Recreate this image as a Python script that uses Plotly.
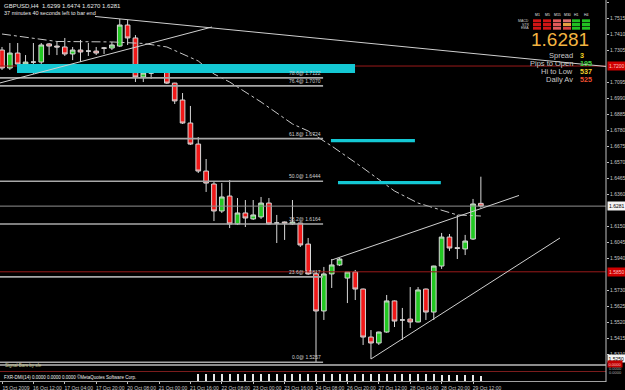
import plotly.graph_objects as go

# ---------------- data ----------------
bar_index = list(range(62))
opens = [1.7305, 1.7187, 1.7285, 1.7213, 1.7226, 1.7226, 1.7345, 1.7331, 1.7325, 1.7279,
         1.7305, 1.7298, 1.7298, 1.7319, 1.7318, 1.7331, 1.7469, 1.7384, 1.7128, 1.7154,
         1.7161, 1.7180, 1.7088, 1.6977, 1.6826, 1.6688, 1.6511, 1.6426, 1.6249, 1.6347,
         1.6164, 1.6236, 1.6197, 1.6210, 1.6301, 1.6170, 1.6177, 1.6164, 1.6170, 1.6032,
         1.5836, 1.5593, 1.5836, 1.5895, 1.5809, 1.5849, 1.5737, 1.5422, 1.5383, 1.5455,
         1.5659, 1.5534, 1.5540, 1.5521, 1.5737, 1.5586, 1.5888, 1.6078, 1.6008, 1.6000,
         1.6065, 1.6299]
highs = [1.7325, 1.7351, 1.7351, 1.7272, 1.7351, 1.7351, 1.7351, 1.7358, 1.7384, 1.7325,
         1.7371, 1.7351, 1.7325, 1.7325, 1.7358, 1.7508, 1.7502, 1.7403, 1.7156, 1.7187,
         1.7187, 1.7187, 1.7090, 1.7023, 1.6938, 1.6734, 1.6590, 1.6439, 1.6432, 1.6452,
         1.6334, 1.6321, 1.6321, 1.6341, 1.6334, 1.6223, 1.6180, 1.6321, 1.6172, 1.6072,
         1.5849, 1.5882, 1.5934, 1.5941, 1.5849, 1.5862, 1.5740, 1.5468, 1.5457, 1.5698,
         1.5662, 1.5613, 1.5750, 1.5750, 1.5740, 1.5890, 1.6105, 1.6098, 1.6223, 1.6092,
         1.6328, 1.6474]
lows = [1.7174, 1.7174, 1.7194, 1.7187, 1.7148, 1.7194, 1.7272, 1.7272, 1.7266, 1.7239,
        1.7226, 1.7266, 1.7272, 1.7279, 1.7305, 1.7325, 1.7338, 1.7095, 1.7095, 1.7115,
        1.7154, 1.7082, 1.6951, 1.6820, 1.6682, 1.6498, 1.6374, 1.6183, 1.6236, 1.6137,
        1.6157, 1.6144, 1.6190, 1.6197, 1.6160, 1.6039, 1.6059, 1.6157, 1.6013, 1.5830,
        1.5257, 1.5534, 1.5744, 1.5888, 1.5645, 1.5665, 1.5370, 1.5278, 1.5370, 1.5450,
        1.5488, 1.5403, 1.5481, 1.5518, 1.5534, 1.5534, 1.5869, 1.5987, 1.5934, 1.5960,
        1.6059, 1.6270]
closes = [1.7187, 1.7285, 1.7213, 1.7226, 1.7226, 1.7338, 1.7331, 1.7325, 1.7279, 1.7305,
          1.7292, 1.7298, 1.7285, 1.7317, 1.7338, 1.7469, 1.7384, 1.7128, 1.7154, 1.7154,
          1.7180, 1.7088, 1.6971, 1.6826, 1.6688, 1.6511, 1.6432, 1.6249, 1.6341, 1.6164,
          1.6236, 1.6203, 1.6223, 1.6301, 1.6164, 1.6170, 1.6170, 1.6177, 1.6026, 1.5836,
          1.5593, 1.5836, 1.5895, 1.5934, 1.5849, 1.5737, 1.5422, 1.5383, 1.5455, 1.5659,
          1.5527, 1.5534, 1.5521, 1.5731, 1.5586, 1.5888, 1.6078, 1.6006, 1.6004, 1.6052,
          1.6295, 1.6281]

# moving average (dash-dot), sampled at bar indices
ma_index = [0, 4, 7, 14, 18, 21, 25, 27, 29, 33, 37, 39, 42, 46, 50, 53, 56, 58, 61]
ma_values = [1.7410, 1.7381, 1.7361, 1.7358, 1.7348, 1.7325, 1.7233, 1.7148, 1.7095, 1.6964,
             1.6820, 1.6774, 1.6675, 1.6531, 1.6380, 1.6301, 1.6256, 1.6223, 1.6216]

# fibonacci retracement
fib_levels = ["0.0", "23.6", "38.2", "50.0", "61.8", "76.4", "78.6"]
fib_prices = [1.5257, 1.5817, 1.6164, 1.6444, 1.6724, 1.7070, 1.7122]
fib_end_index = 40.9

# trend lines: (index0, price0, index1, price1)
trend_lines = [
    (11.85, 1.7525, 76.94, 1.7197),
    (-0.26, 1.7089, 26.75, 1.7456),
    (42.04, 1.5928, 65.86, 1.6351),
    (47.0, 1.5278, 71.08, 1.6072),
]

# supply/demand zones: (index0, index1, price_low, price_high)
zones = [
    (1.91, 44.97, 1.7154, 1.7213),
    (41.9, 52.6, 1.6700, 1.6722),
    (42.8, 55.9, 1.6425, 1.6446),
]

red_levels = [1.7200, 1.5850]
last_price = 1.6281

price_ticks = [1.7620, 1.7515, 1.7410, 1.7305, 1.7095, 1.6990, 1.6885, 1.6780, 1.6675,
               1.6570, 1.6465, 1.6360, 1.6150, 1.6045, 1.5940, 1.5730, 1.5625, 1.5520,
               1.5415, 1.5310]

date_ticks = [0, 4, 8, 12, 16, 20, 24, 28, 32, 36, 40, 44, 48, 52, 56, 60]
date_labels = ["15 Oct 2009", "16 Oct 12:00", "17 Oct 04:00", "17 Oct 20:00", "20 Oct 08:00",
               "21 Oct 00:00", "21 Oct 16:00", "22 Oct 08:00", "23 Oct 00:00", "23 Oct 16:00",
               "24 Oct 08:00", "26 Oct 20:00", "27 Oct 12:00", "28 Oct 04:00", "28 Oct 20:00",
               "29 Oct 12:00"]

# indicator sub-window ticks
sub_index = list(range(25, 62))
sub_values = [0.9, 0.9, 0.9, 0.9, 0.9, 0.9, 0.9, 0.9, 0.9, 0.9, 0.9, 0.9, 0.9, 0.9, 0.9, 0.9,
              0.9, 0.9, 0.9, 0.9, 0.9, 0.9, 0.9, 0.9, 0.9, 0.9, 0.9, 0.9, 0.9, 0.9, 0.9, 0.7,
              0.7, 0.7, 0.7, 0.7, 0.6]

# dashboard
tf_labels = ["M1", "M5", "M15", "M30", "H1", "H4"]
row_labels = ["MACD", "STR", "EMA"]
cell_colors = [
    ["#d01515", "#d01515", "#e05a5a", "#e07070", "#22c022", "#22c022"],
    ["#d01515", "#d01515", "#e05a5a", "#e8a040", "#22c022", "#22c022"],
    ["#d01515", "#d01515", "#e05a5a", "#d84040", "#22c022", "#22c022"],
]
info_labels = ["Spread", "Pips to Open", "Hi to Low", "Daily Av"]
info_values = ["3", "195", "537", "525"]
info_colors = ["#f0d020", "#40d040", "#f0d030", "#f05030"]

# ---------------- layout helpers ----------------
W, H = 625, 390
PLOT_RIGHT = 606
MAIN_BOTTOM = 364
X_RANGE = [-0.255, 76.94]
Y_TOP = 1.76331
Y_BOTTOM = Y_TOP - MAIN_BOTTOM * 0.000656
FONT = "Liberation Sans, Arial, sans-serif"


def px_x(p):
    return p / W


def px_y(p):
    return 1 - p / H


fig = go.Figure()

fig.add_trace(go.Candlestick(
    x=bar_index, open=opens, high=highs, low=lows, close=closes,
    increasing=dict(fillcolor="#22c822", line=dict(color="#d8d8d8", width=1)),
    decreasing=dict(fillcolor="#f01818", line=dict(color="#d8d8d8", width=1)),
    whiskerwidth=0, showlegend=False, hoverinfo="skip",
    xaxis="x", yaxis="y"))

fig.add_trace(go.Scatter(
    x=ma_index, y=ma_values, mode="lines",
    line=dict(color="#c8c8c8", width=1, dash="dashdot"),
    showlegend=False, hoverinfo="skip", xaxis="x", yaxis="y"))

fig.add_trace(go.Bar(
    x=sub_index, y=sub_values, width=0.13, marker=dict(color="#e8e8e8", line=dict(width=0)),
    showlegend=False, hoverinfo="skip", xaxis="x", yaxis="y2"))

shapes = []
for lv in red_levels:
    shapes.append(dict(type="line", xref="x", yref="y", x0=X_RANGE[0], x1=X_RANGE[1],
                       y0=lv, y1=lv, line=dict(color="#9a1a1a", width=1)))
shapes.append(dict(type="line", xref="x", yref="y", x0=X_RANGE[0], x1=X_RANGE[1],
                   y0=last_price, y1=last_price, line=dict(color="#909090", width=1)))
for (i0, i1, lo, hi) in zones:
    shapes.append(dict(type="rect", xref="x", yref="y", x0=i0, x1=i1, y0=lo, y1=hi,
                       fillcolor="#14c8d4", line=dict(width=0)))
for fp in fib_prices:
    shapes.append(dict(type="line", xref="x", yref="y", x0=X_RANGE[0], x1=fib_end_index,
                       y0=fp, y1=fp, line=dict(color="#a8a8a8", width=1.6)))
for (a0, b0, a1, b1) in trend_lines:
    shapes.append(dict(type="line", xref="x", yref="y", x0=a0, x1=a1, y0=b0, y1=b1,
                       line=dict(color="#d0d0d0", width=1)))
shapes.append(dict(type="line", xref="paper", yref="paper", x0=0, x1=px_x(PLOT_RIGHT),
                   y0=px_y(365), y1=px_y(365), line=dict(color="#8c8c8c", width=2)))
shapes.append(dict(type="line", xref="paper", yref="paper", x0=0, x1=px_x(PLOT_RIGHT),
                   y0=px_y(371.5), y1=px_y(371.5), line=dict(color="#7a1c1c", width=1)))
shapes.append(dict(type="line", xref="paper", yref="paper", x0=px_x(PLOT_RIGHT), x1=px_x(PLOT_RIGHT),
                   y0=px_y(0), y1=px_y(382), line=dict(color="#c0c0c0", width=1)))
col_x = [533, 543, 553, 563, 572, 582]
row_y = [19.3, 23.0, 26.7]
for r, row in enumerate(cell_colors):
    for c, colr in enumerate(row):
        shapes.append(dict(type="rect", xref="paper", yref="paper",
                           x0=px_x(col_x[c]), x1=px_x(col_x[c] + 8),
                           y0=px_y(row_y[r] + 3), y1=px_y(row_y[r]),
                           fillcolor=colr, line=dict(width=0)))

ann = []
small = dict(family=FONT, size=5, color="#d0d0d0")
ann.append(dict(xref="paper", yref="paper", x=px_x(2), y=px_y(1.5), xanchor="left", yanchor="top",
                text="GBPUSD,H4  1.6299 1.6474 1.6270 1.6281", showarrow=False,
                font=dict(family=FONT, size=6, color="#e8e8e8")))
ann.append(dict(xref="paper", yref="paper", x=px_x(2), y=px_y(7.5), xanchor="left", yanchor="top",
                text="37 minutes 40 seconds left to bar end", showarrow=False,
                font=dict(family=FONT, size=5.5, color="#e8e8e8")))
for lvl, fp in zip(fib_levels, fib_prices):
    ann.append(dict(xref="x", yref="y", x=fib_end_index, y=fp, xanchor="right", yanchor="bottom",
                    text=f"{lvl}@ {fp:.4f}", showarrow=False, font=small))
ann.append(dict(xref="paper", yref="y", x=px_x(PLOT_RIGHT + 1), y=last_price, xanchor="left",
                yanchor="middle", text=f"{last_price:.4f}", showarrow=False, bgcolor="#f4f4f4",
                borderpad=1, font=dict(family=FONT, size=5, color="#000000")))
for lv in red_levels:
    ann.append(dict(xref="paper", yref="y", x=px_x(PLOT_RIGHT + 1), y=lv, xanchor="left",
                    yanchor="middle", text=f"{lv:.4f}", showarrow=False, bgcolor="#d00000",
                    borderpad=1, font=dict(family=FONT, size=5, color="#ffc0c0")))
ann.append(dict(xref="paper", yref="paper", x=px_x(PLOT_RIGHT + 1), y=px_y(358), xanchor="left",
                yanchor="middle", text="1.5250", showarrow=False, bgcolor="#f4f4f4", borderpad=0.5,
                font=dict(family=FONT, size=5, color="#000000")))
ann.append(dict(xref="paper", yref="paper", x=px_x(PLOT_RIGHT + 1), y=px_y(363.5), xanchor="left",
                yanchor="middle", text="0.0000", showarrow=False, bgcolor="#c00000", borderpad=0.5,
                font=dict(family=FONT, size=4, color="#ffc0c0")))
for yy in (368, 372):
    ann.append(dict(xref="paper", yref="paper", x=px_x(PLOT_RIGHT + 1), y=px_y(yy), xanchor="left",
                    yanchor="middle", text="0.0000", showarrow=False,
                    font=dict(family=FONT, size=4, color="#b0b0b0")))
ann.append(dict(xref="paper", yref="paper", x=px_x(3), y=px_y(365), xanchor="left", yanchor="middle",
                text="Signal Bars by sfe", showarrow=False,
                font=dict(family=FONT, size=4.5, color="#c8c890")))
ann.append(dict(xref="paper", yref="paper", x=px_x(2), y=px_y(377), xanchor="left", yanchor="middle",
                text="FXR-DMI(14) 0.0000 0.0000 0.0000 ©MetaQuotes Software Corp.", showarrow=False,
                font=dict(family=FONT, size=4.5, color="#f0f0f0")))
for c, lab in enumerate(tf_labels):
    ann.append(dict(xref="paper", yref="paper", x=px_x(col_x[c] + 4), y=px_y(15.5), xanchor="center",
                    yanchor="middle", text=lab, showarrow=False,
                    font=dict(family=FONT, size=3.5, color="#e0e0e0")))
for r, lab in enumerate(row_labels):
    ann.append(dict(xref="paper", yref="paper", x=px_x(531), y=px_y(row_y[r] + 1.5), xanchor="right",
                    yanchor="middle", text=lab, showarrow=False,
                    font=dict(family=FONT, size=3.5, color="#d0d0d0")))
ann.append(dict(xref="paper", yref="paper", x=px_x(590), y=px_y(39.5), xanchor="right", yanchor="middle",
                text=f"{last_price:.4f}", showarrow=False, borderpad=0,
                font=dict(family=FONT, size=19, color="#f3b441")))
for k, (lab, val, colr) in enumerate(zip(info_labels, info_values, info_colors)):
    yy = 55.8 + k * 7.9
    ann.append(dict(xref="paper", yref="paper", x=px_x(574), y=px_y(yy), xanchor="right",
                    yanchor="middle", text=lab, showarrow=False, borderpad=0,
                    font=dict(family=FONT, size=7.5, color="#c8c8c8")))
    ann.append(dict(xref="paper", yref="paper", x=px_x(579), y=px_y(yy), xanchor="left",
                    yanchor="middle", text=f"<b>{val}</b>", showarrow=False, borderpad=0,
                    font=dict(family=FONT, size=7.2, color=colr)))

fig.update_layout(
    width=W, height=H, margin=dict(l=0, r=0, t=0, b=0),
    paper_bgcolor="#000000", plot_bgcolor="#000000",
    showlegend=False, boxgap=0.15, bargap=0,
    shapes=shapes, annotations=ann,
    xaxis=dict(domain=[0, px_x(PLOT_RIGHT)], range=X_RANGE, anchor="y2",
               rangeslider=dict(visible=False), showgrid=False, zeroline=False,
               tickmode="array", tickvals=date_ticks, ticktext=date_labels,
               ticks="outside", ticklen=2, tickcolor="#c0c0c0", ticklabelshift=14,
               tickfont=dict(family=FONT, size=5, color="#c8c8c8"),
               showline=True, linecolor="#a0a0a0", linewidth=1, automargin=False),
    yaxis=dict(domain=[px_y(MAIN_BOTTOM), 1], range=[Y_BOTTOM, Y_TOP], anchor="x", side="right",
               showgrid=False, zeroline=False, tickmode="array", tickvals=price_ticks,
               tickformat=".4f", ticks="outside", ticklen=2, tickcolor="#c0c0c0",
               tickfont=dict(family=FONT, size=5, color="#c8c8c8"),
               showline=False, automargin=False),
    yaxis2=dict(domain=[px_y(381), px_y(373)], range=[0, 1], anchor="x", showgrid=False,
                zeroline=False, showticklabels=False, showline=False),
)

fig.write_html("out.html")
